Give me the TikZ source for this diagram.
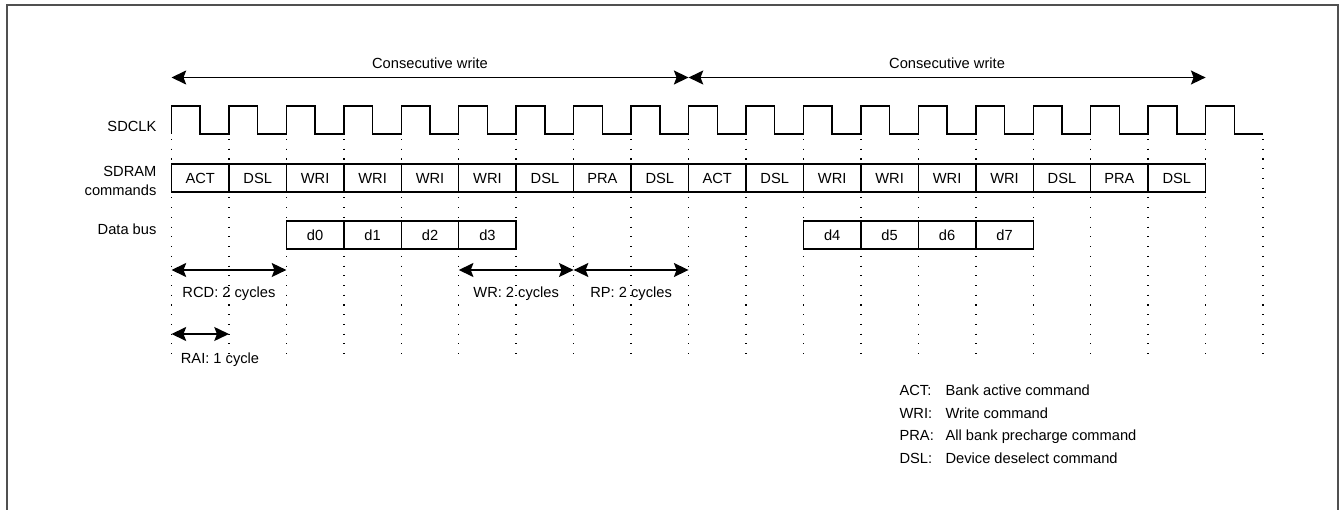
\documentclass[tikz,border=0pt]{standalone}
\usepackage{fontspec}
\setmainfont{Liberation Sans}
\usetikzlibrary{positioning,arrows.meta}
\definecolor{framegray}{HTML}{505050}
\newcommand{\clkzero}{171.5}
\newcommand{\clkper}{57.45}

\begin{document}
\begin{tikzpicture}[
  x=0.75pt,y=-0.75pt,
  font=\fontsize{11}{13}\selectfont,
  cell/.style={rectangle,draw,line width=1.1pt,fill=white,inner sep=0pt,outer sep=0pt,
               minimum width=43.09pt,minimum height=21pt,anchor=west},
  wave/.style={line width=1.1pt,line join=miter},
  tick/.style={line width=1.1pt,dash pattern=on 0.8pt off 6.5pt},
  span/.style={<->,>={Stealth[length=11pt,width=10.5pt,inset=2pt]},line width=1.1pt},
  lbl/.style={inner sep=1pt}
]
  \useasboundingbox (0,0) rectangle (1340,510);
  \draw[framegray,line width=1.5pt] (6.5,510) -- (6.5,5) -- (1337.5,5) -- (1337.5,510);

  % rising edges of the clock
  \foreach \i in {0,...,19}
    \coordinate (t\i) at ({\clkzero+\i*\clkper},0);

  \draw[wave] (t0 |- 0,134) \foreach \i in {0,...,18}
    { -- ++(0,-28) -- ++({\clkper/2},0) -- ++(0,28) -- ++({\clkper/2},0) };
  \foreach \i in {0,...,19}
    \draw[tick] (t\i |- 0,139) -- (t\i |- 0,356);

  % command and data rows
  \foreach \txt [count=\i from 0] in {ACT,DSL,WRI,WRI,WRI,WRI,DSL,PRA,DSL,ACT,DSL,WRI,WRI,WRI,WRI,DSL,PRA,DSL}
    \node[cell] (cmd\i) at (t\i |- 0,178) {\txt};
  \foreach \d/\j in {0/2,1/3,2/4,3/5,4/11,5/12,6/13,7/14}
    \node[cell] (data\d) at (t\j |- 0,235) {d\d};

  \node[lbl,anchor=east] (clklbl) at (158,126) {SDCLK};
  \node[lbl,anchor=east,align=right] (cmdlbl) at (158,181) {SDRAM\\[1pt]commands};
  \node[lbl,anchor=east] (datalbl) at (158,229) {Data bus};

  % timing spans
  \draw[span] (t0 |- 0,77.5) -- node[lbl,yshift=11pt]{Consecutive write} (t9 |- 0,77.5);
  \draw[span] (t9 |- 0,77.5) -- node[lbl,yshift=11pt]{Consecutive write} (t18 |- 0,77.5);
  \draw[span] (t0 |- 0,270) -- node[lbl,yshift=-17.5pt]{RCD: 2 cycles} (t2 |- 0,270);
  \draw[span] (t5 |- 0,270) -- node[lbl,yshift=-17.5pt]{WR: 2 cycles} (t7 |- 0,270);
  \draw[span] (t7 |- 0,270) -- node[lbl,yshift=-17.5pt]{RP: 2 cycles} (t9 |- 0,270);
  \draw[span] (t0 |- 0,334) -- node[lbl,pos=0,anchor=west,xshift=5.5pt,yshift=-19pt]{RAI: 1 cycle} (t1 |- 0,334);

  % legend
  \foreach \k/\dsc [count=\r from 0] in {ACT:/Bank active command,WRI:/Write command,PRA:/All bank precharge command,DSL:/Device deselect command} {
    \node[lbl,anchor=base west] (key\r) at (898,{395.5+22.7*\r}) {\k};
    \node[lbl,anchor=base west] (desc\r) at (944,{395.5+22.7*\r}) {\dsc};
  }
\end{tikzpicture}
\end{document}
